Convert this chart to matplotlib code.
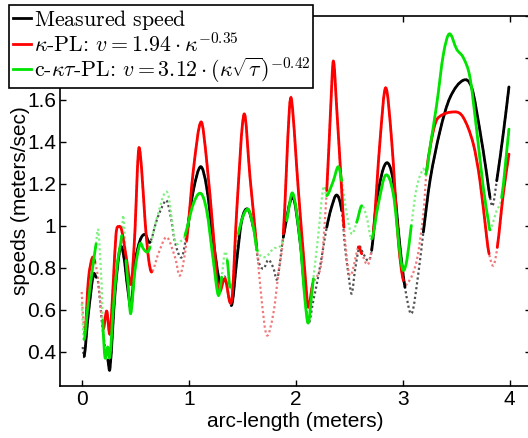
import numpy as np
import matplotlib
matplotlib.use('Agg')
import matplotlib.pyplot as plt
from matplotlib.lines import Line2D
from matplotlib.path import Path
from matplotlib.patches import PathPatch

plt.rcParams['mathtext.fontset'] = 'cm'
plt.rcParams['font.family'] = ['Liberation Sans', 'DejaVu Sans']

# ---------------- data ----------------
measured_x = [0.009, 0.024, 0.06, 0.108, 0.134, 0.155, 0.187, 0.218, 0.245, 0.264, 0.311, 0.358, 0.389,
              0.436, 0.461, 0.498, 0.545, 0.592, 0.638, 0.70, 0.76, 0.794, 0.83, 0.872, 0.934, 0.981,
              1.043, 1.112, 1.168, 1.23, 1.293, 1.339, 1.40, 1.449, 1.495, 1.551, 1.604, 1.651, 1.698,
              1.744, 1.791, 1.828, 1.884, 1.972, 2.04, 2.087, 2.118, 2.165, 2.21, 2.258, 2.29, 2.33,
              2.383, 2.43, 2.461, 2.492, 2.523, 2.554, 2.595, 2.632, 2.679, 2.71, 2.757, 2.841, 2.912,
              2.975, 3.021, 3.083, 3.146, 3.193, 3.255, 3.349, 3.442, 3.567, 3.645, 3.722, 3.785, 3.816,
              3.841, 3.879, 3.94, 3.993]
measured_y = [0.423, 0.379, 0.57, 0.764, 0.756, 0.726, 0.55, 0.423, 0.36, 0.32, 0.678, 0.891, 0.868,
              0.678, 0.613, 0.82, 0.93, 0.959, 0.922, 1.025, 1.10, 1.12, 1.05, 0.922, 0.85, 0.963,
              1.168, 1.282, 1.183, 0.93, 0.724, 0.756, 0.621, 0.835, 1.025, 1.08, 0.993, 0.835, 0.796,
              0.838, 0.80, 0.748, 0.946, 1.136, 0.93, 0.677, 0.534, 0.645, 0.756, 0.898, 0.993, 1.08,
              1.147, 1.073, 0.898, 0.772, 0.677, 0.788, 0.898, 0.867, 0.835, 0.883, 1.12, 1.297, 1.215,
              0.898, 0.708, 0.582, 0.772, 0.97, 1.215, 1.453, 1.611, 1.694, 1.658, 1.453, 1.247, 1.136,
              1.096, 1.215, 1.44, 1.662]
measured_solid = [(0.02, 0.135), (0.24, 0.64), (0.975, 1.30), (1.395, 1.61), (1.88, 2.09),
                  (2.28, 2.44), (2.70, 3.03), (3.19, 3.82), (3.875, 4.0)]

kpl_x = [0.0, 0.015, 0.031, 0.062, 0.099, 0.124, 0.15, 0.18, 0.202, 0.234, 0.264, 0.296, 0.321, 0.346,
         0.374, 0.421, 0.461, 0.498, 0.52, 0.536, 0.561, 0.592, 0.623, 0.654, 0.716, 0.794, 0.872,
         0.919, 0.981, 1.043, 1.115, 1.168, 1.23, 1.277, 1.339, 1.402, 1.449, 1.517, 1.573, 1.636,
         1.682, 1.729, 1.791, 1.838, 1.884, 1.94, 1.963, 2.025, 2.087, 2.118, 2.159, 2.196, 2.243,
         2.29, 2.327, 2.352, 2.383, 2.43, 2.451, 2.492, 2.523, 2.585, 2.617, 2.679, 2.725, 2.788,
         2.841, 2.897, 2.959, 3.006, 3.053, 3.131, 3.193, 3.224, 3.286, 3.333, 3.489, 3.567, 3.66,
         3.722, 3.785, 3.807, 3.847, 3.884, 3.94, 3.993]
kpl_y = [0.685, 0.55, 0.487, 0.74, 0.848, 0.827, 0.76, 0.60, 0.51, 0.594, 0.487, 0.74, 0.962, 0.997,
         0.978, 0.835, 0.724, 0.978, 1.263, 1.373, 1.263, 1.025, 0.851, 0.78, 0.867, 0.946, 0.851,
         0.764, 0.93, 1.263, 1.495, 1.31, 0.962, 0.693, 0.748, 0.645, 1.073, 1.532, 1.231, 0.898,
         0.645, 0.479, 0.582, 0.772, 0.962, 1.548, 1.595, 1.168, 0.772, 0.613, 0.724, 0.756, 0.835,
         1.168, 1.563, 1.785, 1.563, 1.168, 0.993, 0.788, 0.772, 0.898, 0.867, 0.819, 0.962, 1.405,
         1.658, 1.405, 0.93, 0.74, 0.732, 0.835, 1.057, 1.263, 1.453, 1.516, 1.543, 1.516, 1.39,
         1.215, 0.946, 0.867, 0.811, 0.898, 1.152, 1.342]
kpl_solid = [(0.03, 0.125), (0.20, 0.66), (0.975, 1.64), (1.88, 2.165), (2.28, 2.34), (2.36, 2.455),
             (2.58, 2.62), (2.72, 3.01), (3.22, 3.81), (3.88, 4.0)]

cktpl_x = [0.0, 0.021, 0.05, 0.078, 0.134, 0.155, 0.187, 0.196, 0.218, 0.243, 0.264, 0.296, 0.333,
           0.374, 0.389, 0.414, 0.436, 0.458, 0.498, 0.545, 0.576, 0.613, 0.638, 0.70, 0.80, 0.872,
           0.934, 0.965, 1.043, 1.112, 1.168, 1.23, 1.277, 1.308, 1.339, 1.361, 1.386, 1.42, 1.464,
           1.551, 1.604, 1.641, 1.713, 1.791, 1.869, 1.916, 1.972, 2.04, 2.087, 2.118, 2.15, 2.165,
           2.21, 2.258, 2.29, 2.352, 2.398, 2.43, 2.477, 2.523, 2.57, 2.617, 2.664, 2.71, 2.772,
           2.841, 2.912, 2.975, 3.005, 3.04, 3.08, 3.131, 3.193, 3.218, 3.255, 3.318, 3.38, 3.436,
           3.505, 3.567, 3.629, 3.692, 3.753, 3.80, 3.816, 3.878, 3.925, 3.993]
cktpl_y = [0.629, 0.46, 0.58, 0.708, 0.914, 0.978, 0.708, 0.55, 0.373, 0.423, 0.376, 0.613, 0.819,
           0.954, 1.049, 0.835, 0.708, 0.582, 0.788, 0.914, 0.891, 0.875, 0.898, 1.033, 1.16, 0.93,
           0.93, 0.954, 1.104, 1.155, 1.073, 0.835, 0.669, 0.756, 0.875, 0.835, 0.708, 0.75, 0.962,
           1.08, 0.993, 0.883, 0.851, 0.891, 0.914, 1.025, 1.156, 0.93, 0.645, 0.537, 0.677, 0.748,
           0.95, 1.183, 1.144, 1.215, 1.282, 1.215, 1.057, 0.962, 1.017, 1.096, 1.041, 0.938, 1.104,
           1.242, 1.152, 0.867, 0.788, 0.84, 1.0, 1.183, 1.271, 1.247, 1.373, 1.579, 1.817, 1.915,
           1.841, 1.801, 1.706, 1.453, 1.183, 1.025, 0.981, 1.073, 1.136, 1.461]
cktpl_solid = [(0.02, 0.135), (0.195, 0.375), (0.41, 0.64), (0.96, 1.31), (1.36, 1.39), (1.46, 1.645),
               (1.91, 2.17), (2.285, 2.44), (2.56, 2.62), (2.70, 3.06), (3.215, 3.82), (3.92, 4.0)]

labels = [r'$\mathrm{Measured\ speed}$',
          r'$\kappa$-PL: $v = 1.94\cdot\kappa^{-0.35}$',
          r'c-$\kappa\tau$-PL: $v = 3.12\cdot(\kappa\sqrt{\tau})^{-0.42}$']

xticks = [0, 1, 2, 3, 4]
yticks = [0.4, 0.6, 0.8, 1.0, 1.2, 1.4, 1.6, 1.8, 2.0]

# ---------------- figure ----------------
W, H = 528, 438
fig = plt.figure(figsize=(W / 100, H / 100), dpi=100)
ax = fig.add_axes([60.3 / W, 52 / H, 470.8 / W, 370 / H])


def slopes(x, y):
    n = len(x)
    m = np.zeros(n)
    for i in range(n):
        a = max(i - 1, 0)
        b = min(i + 1, n - 1)
        m[i] = (y[b] - y[a]) / (x[b] - x[a])
    return m


def smooth_path(x, y, m, seg_ids):
    verts, codes = [], []
    prev = None
    for i in seg_ids:
        if prev is None or i != prev + 1:
            verts.append((x[i], y[i]))
            codes.append(Path.MOVETO)
        dx = x[i + 1] - x[i]
        verts += [(x[i] + dx / 3, y[i] + m[i] * dx / 3),
                  (x[i + 1] - dx / 3, y[i + 1] - m[i + 1] * dx / 3),
                  (x[i + 1], y[i + 1])]
        codes += [Path.CURVE4] * 3
        prev = i
    return Path(verts, codes)


def draw(x, y, ranges, solid_color, dot_color):
    x = np.asarray(x, dtype=float)
    y = np.asarray(y, dtype=float)
    m = slopes(x, y)
    n = len(x)
    allseg = list(range(n - 1))
    ax.add_patch(PathPatch(smooth_path(x, y, m, allseg), fill=False, edgecolor=dot_color,
                           lw=1.6, linestyle=(0, (1, 1.2)), zorder=2))
    mids = (x[:-1] + x[1:]) / 2
    solid = [i for i in allseg if any(a <= mids[i] <= b for a, b in ranges)]
    ax.add_patch(PathPatch(smooth_path(x, y, m, solid), fill=False, edgecolor=solid_color,
                           lw=2.0, joinstyle='round', capstyle='round', zorder=2.1))


draw(measured_x, measured_y, measured_solid, 'black', '#505050')
draw(kpl_x, kpl_y, kpl_solid, '#ff0000', '#f07878')
draw(cktpl_x, cktpl_y, cktpl_solid, '#00e400', '#80f080')

ax.set_xlim(-0.2, 4.2)
ax.set_ylim(0.237, 1.995)
ax.set_xticks(xticks)
ax.set_yticks(yticks)
ax.set_xticklabels([f'{t:g}' for t in xticks])
ax.set_yticklabels([f'{t:g}' for t in yticks])
ax.tick_params(direction='in', top=True, right=True, length=4, width=1.0, labelsize=15, pad=3)
for s in ax.spines.values():
    s.set_linewidth(1.2)

ax.set_xlabel('arc-length (meters)', fontsize=15, labelpad=2)
ax.set_ylabel('speeds (meters/sec)', fontsize=15, labelpad=-2)

handles = [Line2D([], [], color='black', lw=2),
           Line2D([], [], color='#ff0000', lw=2),
           Line2D([], [], color='#00e400', lw=2)]
leg = ax.legend(handles, labels, loc='upper left',
                bbox_to_anchor=(9.4 / W, 1 - 4.7 / H), bbox_transform=fig.transFigure,
                borderaxespad=0, fancybox=False, edgecolor='black', framealpha=1,
                prop={'family': 'cmr10', 'size': 15.8}, handlelength=0.85, handletextpad=0.1,
                labelspacing=0.0, borderpad=0.15)
leg.get_frame().set_linewidth(1.2)
leg.set_zorder(10)

fig.savefig('out.png', dpi=100)
